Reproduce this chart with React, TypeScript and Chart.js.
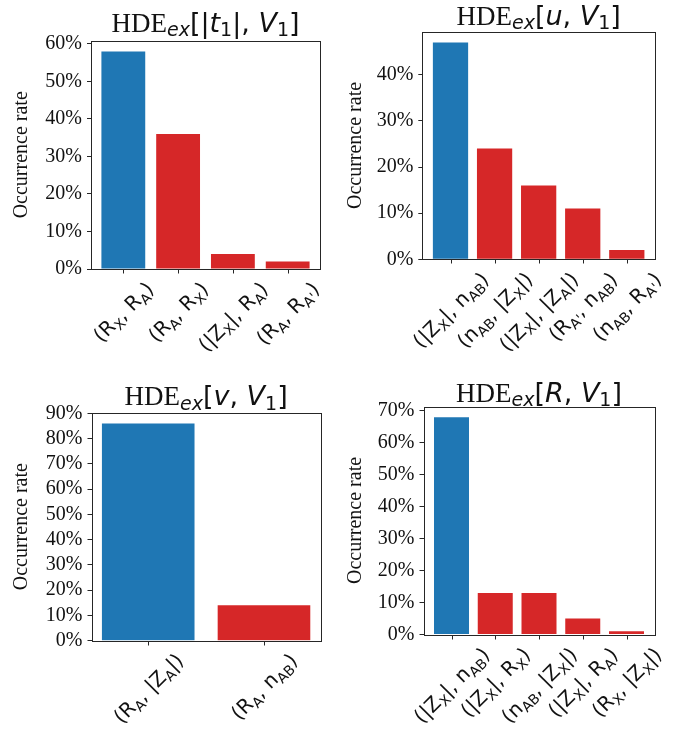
import React, { useEffect, useRef } from "react";
import { Chart, registerables } from "chart.js";

Chart.register(...registerables);

// ---------- data ----------
const CATS_T1 = ["(R_{X}, R_{A})", "(R_{A}, R_{X})", "(|Z_{X}|, R_{A})", "(R_{A}, R_{A'})"];
const VALS_T1 = [58, 36, 4, 2];

const CATS_U = ["(|Z_{X}|, n_{AB})", "(n_{AB}, |Z_{X}|)", "(|Z_{X}|, |Z_{A}|)", "(R_{A'}, n_{AB})", "(n_{AB}, R_{A'})"];
const VALS_U = [47, 24, 16, 11, 2];

const CATS_V = ["(R_{A}, |Z_{A}|)", "(R_{A}, n_{AB})"];
const VALS_V = [86, 14];

const CATS_R = ["(|Z_{X}|, n_{AB})", "(|Z_{X}|, R_{X})", "(n_{AB}, |Z_{X}|)", "(|Z_{X}|, R_{A})", "(R_{X}, |Z_{X}|)"];
const VALS_R = [68, 13, 13, 5, 1];

type Style = "rm" | "it" | "sans" | "sub" | "subit";
type TitlePart = [string, Style];

const TITLE_T1: TitlePart[] = [["HDE", "rm"], ["ex", "subit"], ["[|", "sans"], ["t", "it"], ["1", "sub"], ["|, ", "sans"], ["V", "it"], ["1", "sub"], ["]", "sans"]];
const TITLE_U: TitlePart[] = [["HDE", "rm"], ["ex", "subit"], ["[", "sans"], ["u", "it"], [", ", "sans"], ["V", "it"], ["1", "sub"], ["]", "sans"]];
const TITLE_V: TitlePart[] = [["HDE", "rm"], ["ex", "subit"], ["[", "sans"], ["v", "it"], [", ", "sans"], ["V", "it"], ["1", "sub"], ["]", "sans"]];
const TITLE_R: TitlePart[] = [["HDE", "rm"], ["ex", "subit"], ["[", "sans"], ["R", "it"], [", ", "sans"], ["V", "it"], ["1", "sub"], ["]", "sans"]];

const Y_LABEL = "Occurrence rate";
const Y_STEP = 10;

// ---------- style ----------
const BLUE = "#1f77b4";
const RED = "#d62728";
const INK = "#111111";
const SPINE = "#262626";
const SERIF = '"Liberation Serif", "Times New Roman", serif';
const SANS = '"DejaVu Sans", sans-serif';
const TITLE_FS = 27;
const XLAB_FS = 20;

type Seg = { text: string; font: string; dy: number };

function titleSegs(parts: TitlePart[]): Seg[] {
  const sub = Math.round(TITLE_FS * 0.7);
  return parts.map(([text, st]) => {
    switch (st) {
      case "rm": return { text, font: `${TITLE_FS}px ${SERIF}`, dy: 0 };
      case "it": return { text, font: `italic ${TITLE_FS}px ${SANS}`, dy: 0 };
      case "sans": return { text, font: `${TITLE_FS}px ${SANS}`, dy: 0 };
      case "sub": return { text, font: `${sub}px ${SANS}`, dy: 4.5 };
      default: return { text, font: `italic ${sub}px ${SANS}`, dy: 4.5 };
    }
  });
}

function labelSegs(s: string): Seg[] {
  const out: Seg[] = [];
  const normal = `${XLAB_FS}px ${SANS}`;
  const sub = `${(XLAB_FS * 0.7).toFixed(1)}px ${SANS}`;
  let buf = "";
  let i = 0;
  while (i < s.length) {
    if (s[i] === "_" && s[i + 1] === "{") {
      if (buf) { out.push({ text: buf, font: normal, dy: 0 }); buf = ""; }
      const end = s.indexOf("}", i);
      out.push({ text: s.slice(i + 2, end), font: sub, dy: XLAB_FS * 0.22 });
      i = end + 1;
    } else {
      buf += s[i];
      i++;
    }
  }
  if (buf) out.push({ text: buf, font: normal, dy: 0 });
  return out;
}

function segsWidth(ctx: CanvasRenderingContext2D, segs: Seg[]) {
  let w = 0;
  for (const s of segs) { ctx.font = s.font; w += ctx.measureText(s.text).width; }
  return w;
}

function drawSegs(ctx: CanvasRenderingContext2D, segs: Seg[], x: number, y: number) {
  let cx = x;
  for (const s of segs) {
    ctx.font = s.font;
    ctx.fillText(s.text, cx, y + s.dy);
    cx += ctx.measureText(s.text).width;
  }
}

type Geo = {
  x: number; y: number; w: number; h: number; // canvas on page
  left: number; top: number; right: number; bottom: number; // plot box on page
  ylabPad: number; titleGap: number;
};

type Spec = { cats: string[]; values: number[]; title: TitlePart[]; geo: Geo };

const SPECS: Spec[] = [
  { cats: CATS_T1, values: VALS_T1, title: TITLE_T1,
    geo: { x: 0, y: 0, w: 344, h: 365, left: 91, top: 40.6, right: 320, bottom: 269, ylabPad: 10, titleGap: 9 } },
  { cats: CATS_U, values: VALS_U, title: TITLE_U,
    geo: { x: 344, y: 0, w: 344, h: 365, left: 422.3, top: 31.7, right: 655, bottom: 259.3, ylabPad: 0, titleGap: 7 } },
  { cats: CATS_V, values: VALS_V, title: TITLE_V,
    geo: { x: 0, y: 365, w: 344, h: 364, left: 91.5, top: 412.7, right: 320.7, bottom: 640.7, ylabPad: 10, titleGap: 7.5 } },
  { cats: CATS_R, values: VALS_R, title: TITLE_R,
    geo: { x: 344, y: 365, w: 344, h: 364, left: 423.5, top: 406.5, right: 654.5, bottom: 634.5, ylabPad: 0, titleGap: 5 } },
];

function Panel({ spec }: { spec: Spec }) {
  const ref = useRef<HTMLCanvasElement>(null);
  useEffect(() => {
    const g = spec.geo;
    const L = g.left - g.x, T = g.top - g.y, R = g.right - g.x, B = g.bottom - g.y;
    const n = spec.values.length;
    const margin = 0.05 * (n - 1 + 0.8);
    const ymax = Math.max(...spec.values) * 1.05;

    const deco = {
      id: "deco",
      afterDraw(chart: any) {
        const ctx: CanvasRenderingContext2D = chart.ctx;
        const a = chart.chartArea;
        const xs = chart.scales.x;
        ctx.save();
        // frame
        ctx.strokeStyle = SPINE;
        ctx.lineWidth = 1;
        ctx.strokeRect(Math.round(a.left) + 0.5, Math.round(a.top) + 0.5,
          Math.round(a.right) - Math.round(a.left), Math.round(a.bottom) - Math.round(a.top));
        // x ticks + labels
        ctx.fillStyle = INK;
        ctx.textBaseline = "alphabetic";
        ctx.textAlign = "left";
        spec.cats.forEach((c, i) => {
          const px = xs.getPixelForValue(i);
          ctx.beginPath();
          ctx.moveTo(Math.round(px) + 0.5, Math.round(a.bottom));
          ctx.lineTo(Math.round(px) + 0.5, Math.round(a.bottom) + 4.5);
          ctx.stroke();
          const segs = labelSegs(c);
          const w = segsWidth(ctx, segs);
          const h = XLAB_FS * 1.164;
          const asc = XLAB_FS * 0.928;
          const top = a.bottom + 4 + 4;
          const cy = top + (w + h) / (2 * Math.SQRT2);
          ctx.save();
          ctx.translate(px, cy);
          ctx.rotate(-Math.PI / 4);
          drawSegs(ctx, segs, -w / 2, -h / 2 + asc);
          ctx.restore();
        });
        // title
        const ts = titleSegs(spec.title);
        const tw = segsWidth(ctx, ts);
        drawSegs(ctx, ts, (a.left + a.right) / 2 - tw / 2, a.top - g.titleGap);
        ctx.restore();
      },
    };

    const chart = new Chart(ref.current as HTMLCanvasElement, {
      type: "bar",
      data: {
        datasets: [{
          data: spec.values.map((v, i) => ({ x: i, y: v })),
          backgroundColor: spec.values.map((_, i) => (i === 0 ? BLUE : RED)),
          borderWidth: 0,
          barPercentage: 0.8,
          categoryPercentage: 1,
        }],
      },
      options: {
        responsive: false,
        animation: false,
        layout: { padding: { left: 0, top: T, right: g.w - R, bottom: 0 } },
        plugins: { legend: { display: false }, tooltip: { enabled: false }, title: { display: false } },
        scales: {
          x: {
            type: "linear",
            min: -0.4 - margin,
            max: n - 1 + 0.4 + margin,
            offset: false,
            ticks: { display: false, stepSize: 1, includeBounds: false, autoSkip: false },
            grid: { display: false },
            border: { display: false },
            afterFit: (s: any) => { s.height = g.h - B; },
          },
          y: {
            min: 0,
            max: ymax,
            ticks: {
              stepSize: Y_STEP,
              includeBounds: false,
              autoSkip: false,
              callback: (v: any) => `${v}%`,
              font: { family: SERIF, size: 20 },
              color: INK,
              padding: 5,
            },
            grid: { drawOnChartArea: false, drawTicks: true, tickLength: 4, tickColor: SPINE, tickWidth: 1 },
            border: { display: false },
            title: {
              display: true,
              text: Y_LABEL,
              font: { family: SERIF, size: 20 },
              color: INK,
              padding: { top: g.ylabPad, bottom: 0 },
            },
            afterFit: (s: any) => { s.width = L; },
          },
        },
      } as any,
      plugins: [deco],
    });
    return () => chart.destroy();
  }, [spec]);
  const g = spec.geo;
  return (
    <canvas
      ref={ref}
      width={g.w}
      height={g.h}
      style={{ position: "absolute", left: g.x, top: g.y, width: g.w, height: g.h }}
    />
  );
}

export default function App() {
  return (
    <div style={{ position: "absolute", left: 0, top: 0, width: 688, height: 729, background: "#ffffff" }}>
      {SPECS.map((s, i) => (
        <Panel key={i} spec={s} />
      ))}
    </div>
  );
}
